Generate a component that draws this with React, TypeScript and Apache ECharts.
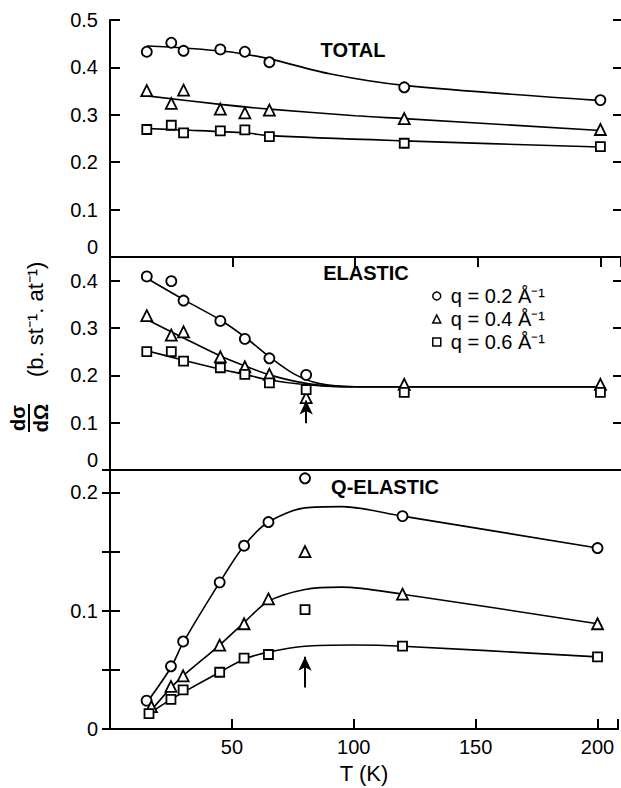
import React, { useEffect, useRef } from "react";
import * as echarts from "echarts";

// ---------- data ----------
const qNames = ["q = 0.2 Å⁻¹", "q = 0.4 Å⁻¹", "q = 0.6 Å⁻¹"];
const panelTitles = ["TOTAL", "ELASTIC", "Q-ELASTIC"];
const xTickLabels = ["50", "100", "150", "200"];

// TOTAL panel measured points [T (K), dσ/dΩ]
const totalQ02: [number, number][] = [[15, 0.433], [25, 0.452], [30, 0.435], [45, 0.438], [55, 0.433], [65, 0.411], [120, 0.358], [200, 0.331]];
const totalQ04: [number, number][] = [[15, 0.351], [25, 0.324], [30, 0.352], [45, 0.312], [55, 0.304], [65, 0.31], [120, 0.292], [200, 0.269]];
const totalQ06: [number, number][] = [[15, 0.269], [25, 0.278], [30, 0.262], [45, 0.266], [55, 0.268], [65, 0.254], [120, 0.24], [200, 0.233]];
// TOTAL fitted curves
const fitTotalQ02: [number, number][] = [[15, 0.445], [30, 0.441], [50, 0.432], [65, 0.418], [90, 0.386], [120, 0.362], [200, 0.33]];
const fitTotalQ04: [number, number][] = [[15, 0.34], [45, 0.322], [65, 0.312], [100, 0.298], [120, 0.292], [200, 0.267]];
const fitTotalQ06: [number, number][] = [[15, 0.271], [30, 0.268], [55, 0.262], [65, 0.256], [120, 0.245], [200, 0.232]];

// ELASTIC panel
const elasticQ02: [number, number][] = [[15, 0.409], [25, 0.399], [30, 0.358], [45, 0.315], [55, 0.277], [65, 0.236], [80, 0.201]];
const elasticQ04: [number, number][] = [[15, 0.326], [25, 0.285], [30, 0.292], [45, 0.239], [55, 0.218], [65, 0.202], [80, 0.153], [120, 0.181], [200, 0.181]];
const elasticQ06: [number, number][] = [[15, 0.25], [25, 0.25], [30, 0.23], [45, 0.216], [55, 0.202], [65, 0.184], [80, 0.17], [120, 0.164], [200, 0.164]];
const fitElasticQ02: [number, number][] = [[15, 0.405], [30, 0.36], [45, 0.317], [55, 0.281], [65, 0.239], [75, 0.203], [85, 0.183], [100, 0.176], [200, 0.176]];
const fitElasticQ04: [number, number][] = [[15, 0.318], [30, 0.279], [45, 0.241], [55, 0.22], [65, 0.201], [80, 0.183], [95, 0.176], [200, 0.176]];
const fitElasticQ06: [number, number][] = [[15, 0.252], [30, 0.232], [45, 0.213], [55, 0.202], [65, 0.19], [80, 0.18], [95, 0.176], [200, 0.176]];

// Q-ELASTIC panel
const qelasticQ02: [number, number][] = [[15, 0.024], [25, 0.053], [30, 0.074], [45, 0.124], [55, 0.155], [65, 0.175], [80, 0.212], [120, 0.18], [200, 0.153]];
const qelasticQ04: [number, number][] = [[17, 0.019], [25, 0.036], [30, 0.045], [45, 0.071], [55, 0.089], [65, 0.11], [80, 0.15], [120, 0.114], [200, 0.089]];
const qelasticQ06: [number, number][] = [[16, 0.013], [25, 0.025], [30, 0.033], [45, 0.048], [55, 0.06], [65, 0.063], [80, 0.101], [120, 0.07], [200, 0.061]];
const fitQelasticQ02: [number, number][] = [[15, 0.022], [25, 0.052], [30, 0.073], [45, 0.124], [55, 0.155], [65, 0.175], [80, 0.187], [95, 0.188], [120, 0.18], [200, 0.153]];
const fitQelasticQ04: [number, number][] = [[17, 0.016], [25, 0.035], [30, 0.045], [45, 0.071], [55, 0.09], [65, 0.108], [80, 0.118], [95, 0.12], [120, 0.114], [200, 0.089]];
const fitQelasticQ06: [number, number][] = [[16, 0.013], [25, 0.025], [30, 0.031], [45, 0.048], [55, 0.059], [65, 0.065], [80, 0.07], [100, 0.071], [120, 0.07], [200, 0.061]];

// arrows marking T = 80 K : [T, from, to]
const arrowElastic = [80, 0.099, 0.147];
const arrowQelastic = [80, 0.035, 0.061];

// axis ranges
const yMax = [0.5, 0.45, 0.219];
const yInterval = [0.1, 0.1, 0.05];
const xMax = 208.4;

const FONT = "'Liberation Sans', Arial, sans-serif";

export default function App() {
  const ref = useRef<HTMLDivElement>(null);

  useEffect(() => {
    if (!ref.current) return;
    const chart = echarts.init(ref.current, undefined, { renderer: "svg" });

    const grids = [
      { left: 110, top: 20, width: 511, height: 237 },
      { left: 110, top: 257, width: 511, height: 213 },
      { left: 110, top: 470, width: 511, height: 259 },
    ];

    const isTenth = (v: number) => Math.abs(v * 10 - Math.round(v * 10)) < 1e-6;
    const blackLine = { color: "#000", width: 2 };

    // data x axes: panel 0 (top edge, ticks), panel 1 (top edge, no ticks), panel 2 (bottom edge, ticks + labels)
    const xAxes: any[] = [0, 1, 2].map((i) => ({
      type: "value",
      gridIndex: i,
      min: 0,
      max: xMax,
      interval: 50,
      position: i === 2 ? "bottom" : "top",
      axisLine: { show: true, lineStyle: blackLine },
      axisTick: { show: i !== 1, inside: true, length: 10, lineStyle: blackLine },
      axisLabel: {
        show: i === 2,
        color: "#000",
        fontSize: 20,
        fontFamily: FONT,
        margin: 8,
        formatter: (v: number) => (xTickLabels.includes(String(v)) ? String(v) : ""),
      },
      splitLine: { show: false },
      name: i === 2 ? "T (K)" : "",
      nameLocation: "middle",
      nameGap: 33,
      nameTextStyle: { color: "#000", fontSize: 22, fontFamily: FONT },
    }));
    // separator line at top of panel 2
    xAxes.push({
      type: "value",
      gridIndex: 2,
      min: 0,
      max: xMax,
      position: "top",
      axisLine: { show: true, lineStyle: blackLine },
      axisTick: { show: false },
      axisLabel: { show: false },
      splitLine: { show: false },
    });

    const leftY = [0, 1, 2].map((i) => ({
      type: "value",
      gridIndex: i,
      min: 0,
      max: yMax[i],
      interval: yInterval[i],
      position: "left",
      axisLine: { show: true, lineStyle: blackLine },
      axisTick: { show: true, inside: true, length: 10, lineStyle: blackLine },
      axisLabel: {
        color: "#000",
        fontSize: 20,
        fontFamily: FONT,
        margin: 12,
        formatter: (v: number) => {
          if (v === 0) return i < 2 ? "{z|0}" : "0";
          return isTenth(v) && v <= yMax[i] ? v.toFixed(1) : "";
        },
        rich: { z: { fontSize: 20, fontFamily: FONT, color: "#000", padding: [0, 0, 20, 0] } },
      },
      splitLine: { show: false },
    }));

    const rightY = [0, 1, 2].map((i) => ({
      type: "value",
      gridIndex: i,
      min: 0,
      max: yMax[i],
      interval: yInterval[i],
      position: "right",
      axisLine: { show: false },
      axisTick: { show: true, inside: true, length: 8, lineStyle: blackLine },
      axisLabel: { show: false },
      splitLine: { show: false },
    }));

    const symbols = ["circle", "triangle", "rect"];
    const sizes = [10, 11, 9];
    const points = [
      [totalQ02, totalQ04, totalQ06],
      [elasticQ02, elasticQ04, elasticQ06],
      [qelasticQ02, qelasticQ04, qelasticQ06],
    ];
    const fits = [
      [fitTotalQ02, fitTotalQ04, fitTotalQ06],
      [fitElasticQ02, fitElasticQ04, fitElasticQ06],
      [fitQelasticQ02, fitQelasticQ04, fitQelasticQ06],
    ];
    const arrows: (number[] | null)[] = [null, arrowElastic, arrowQelastic];

    const series: any[] = [];
    for (let p = 0; p < 3; p++) {
      for (let k = 0; k < 3; k++) {
        series.push({
          type: "line",
          name: "fit " + panelTitles[p] + " " + qNames[k],
          xAxisIndex: p,
          yAxisIndex: p,
          data: fits[p][k],
          smooth: 0.3,
          symbol: "none",
          showSymbol: false,
          silent: true,
          lineStyle: { color: "#000", width: 1.6 },
          z: 2,
        });
      }
      for (let k = 0; k < 3; k++) {
        const s: any = {
          type: "scatter",
          name: qNames[k],
          xAxisIndex: p,
          yAxisIndex: p,
          data: points[p][k],
          symbol: symbols[k],
          symbolSize: sizes[k],
          itemStyle: { color: "#fff", borderColor: "#000", borderWidth: 1.8, opacity: 1 },
          z: 3,
        };
        const a = arrows[p];
        if (k === 0 && a) {
          s.markLine = {
            silent: true,
            symbol: ["none", "arrow"],
            symbolSize: [10, 14],
            label: { show: false },
            lineStyle: { color: "#000", width: 2, type: "solid" },
            data: [[{ coord: [a[0], a[1]] }, { coord: [a[0], a[2]] }]],
          };
        }
        series.push(s);
      }
    }

    const legendIcons = ["circle", "triangle", "rect"];
    const titleStyle = { fontSize: 20, fontWeight: "bold", fontFamily: FONT, fill: "#000", textAlign: "center", textVerticalAlign: "middle", align: "center", verticalAlign: "middle" };

    chart.setOption({
      animation: false,
      backgroundColor: "#fff",
      grid: grids,
      xAxis: xAxes,
      yAxis: [...leftY, ...rightY],
      legend: {
        orient: "vertical",
        left: 427,
        top: 281,
        itemWidth: 8,
        itemHeight: 8,
        itemGap: 3,
        selectedMode: false,
        textStyle: { color: "#000", fontSize: 20, fontFamily: FONT, padding: [0, 0, 0, 5] },
        data: qNames.map((n, k) => ({
          name: n,
          icon: legendIcons[k],
          itemStyle: { color: "#fff", borderColor: "#000", borderWidth: 1.5 },
        })),
      },
      graphic: [
        { type: "text", x: 353, y: 50, style: { ...titleStyle, text: panelTitles[0] } },
        { type: "text", x: 366, y: 273, style: { ...titleStyle, text: panelTitles[1] } },
        { type: "text", x: 385, y: 487, style: { ...titleStyle, text: panelTitles[2] } },
        {
          type: "group",
          x: 29,
          y: 432,
          rotation: Math.PI / 2,
          children: [
            { type: "text", x: 14, y: -1, style: { text: "dσ", fontSize: 20, fontWeight: "bold", fontFamily: FONT, fill: "#000", textAlign: "center", textVerticalAlign: "bottom", align: "center", verticalAlign: "bottom" } },
            { type: "line", shape: { x1: 0, y1: 0, x2: 28, y2: 0 }, style: { stroke: "#000", lineWidth: 2 } },
            { type: "text", x: 14, y: 2, style: { text: "dΩ", fontSize: 20, fontWeight: "bold", fontFamily: FONT, fill: "#000", textAlign: "center", textVerticalAlign: "top", align: "center", verticalAlign: "top" } },
            { type: "text", x: 55, y: 6, style: { text: "(b. st⁻¹. at⁻¹)", fontSize: 22, fontFamily: FONT, fill: "#000", textAlign: "left", textVerticalAlign: "middle", align: "left", verticalAlign: "middle" } },
          ],
        },
      ],
      series,
    });

    return () => chart.dispose();
  }, []);

  return <div ref={ref} style={{ position: "fixed", left: 0, top: 0, width: 621, height: 788 }} />;
}
